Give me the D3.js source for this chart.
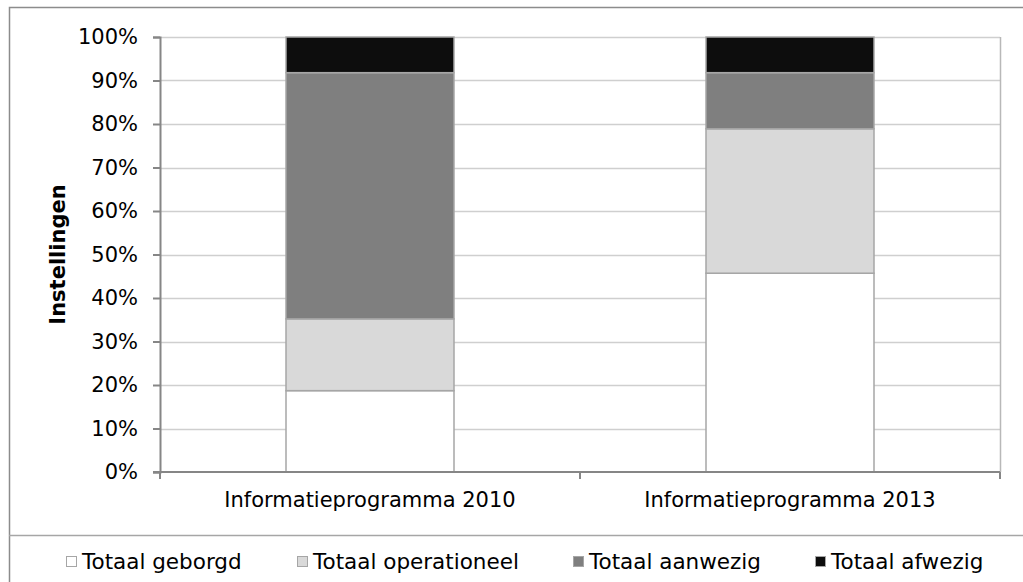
<!DOCTYPE html>
<html>
<head>
<meta charset="utf-8">
<script src="https://cdn.jsdelivr.net/npm/d3@7"></script>
<style>
  body { margin: 0; background: #fff; }
  svg { display: block; font-family: "DejaVu Sans", Verdana, sans-serif; }
</style>
</head>
<body>
<svg width="1023" height="582"></svg>
<script>
// categories and series (percent of instellingen)
var categories = ['Informatieprogramma 2010', 'Informatieprogramma 2013'];
var seriesNames = ['Totaal geborgd', 'Totaal operationeel', 'Totaal aanwezig', 'Totaal afwezig'];
var seriesColors = ['#ffffff', '#d9d9d9', '#7f7f7f', '#0d0d0d'];
var geborgd = [18.7, 45.7];
var operationeel = [16.5, 33.2];
var aanwezig = [56.6, 12.9];
var afwezig = [8.2, 8.2];
var yTicks = [0, 10, 20, 30, 40, 50, 60, 70, 80, 90, 100];

// legend marker positions
var legendX = [66, 297, 573, 815];

var fontSize = 21;
var margin = { top: 37, right: 23, bottom: 110, left: 160 };
var width = 1023 - margin.left - margin.right;
var height = 582 - margin.top - margin.bottom;

var svg = d3.select('svg');

// outer frame (chart box + legend box)
svg.append('path')
    .attr('d', 'M9.5,582 V7.5 H1023')
    .attr('fill', 'none')
    .attr('stroke', '#8c8c8c')
    .attr('stroke-width', 1.5);
svg.append('line')
    .attr('x1', 9).attr('x2', 1023)
    .attr('y1', 535.5).attr('y2', 535.5)
    .attr('stroke', '#a6a6a6')
    .attr('stroke-width', 1.5);

var graph = svg.append('g')
    .attr('transform', 'translate(' + margin.left + ',' + margin.top + ')');

var x = d3.scaleBand().domain(categories).range([0, width]).paddingInner(0.6).paddingOuter(0.3);
var xOuter = d3.scaleBand().domain(categories).range([0, width]);
var y = d3.scaleLinear().domain([0, 100]).range([height, 0]);

// gridlines
graph.append('g')
    .selectAll('line')
    .data(yTicks.filter(function (d) { return d > 0; }))
    .enter().append('line')
    .attr('x1', 0).attr('x2', width)
    .attr('y1', function (d) { return Math.round(y(d)) + 0.5; })
    .attr('y2', function (d) { return Math.round(y(d)) + 0.5; })
    .attr('stroke', '#cfcfcf')
    .attr('stroke-width', 1.5);

// right edge of plot area
graph.append('line')
    .attr('x1', width + 0.5).attr('x2', width + 0.5)
    .attr('y1', y(100)).attr('y2', height)
    .attr('stroke', '#b8b8b8')
    .attr('stroke-width', 1.5);

// stacked bars
var rows = categories.map(function (c, i) {
    return {
        cat: c,
        'Totaal geborgd': geborgd[i],
        'Totaal operationeel': operationeel[i],
        'Totaal aanwezig': aanwezig[i],
        'Totaal afwezig': afwezig[i]
    };
});
var stack = d3.stack().keys(seriesNames)(rows);

var layers = graph.selectAll('.layer')
    .data(stack)
    .enter().append('g')
    .attr('class', 'layer')
    .attr('fill', function (d, i) { return seriesColors[i]; });

layers.selectAll('rect')
    .data(function (d) { return d; })
    .enter().append('rect')
    .attr('x', function (d) { return x(d.data.cat); })
    .attr('width', x.bandwidth())
    .attr('y', function (d) { return y(d[1]); })
    .attr('height', function (d) { return y(d[0]) - y(d[1]); })
    .attr('stroke', '#a6a6a6')
    .attr('stroke-width', 1.5);

// y axis
var yAxis = d3.axisLeft(y)
    .tickValues(yTicks)
    .tickSize(7)
    .tickPadding(15)
    .tickFormat(function (d) { return d + '%'; });

var yg = graph.append('g').call(yAxis);
yg.select('.domain').attr('stroke', '#868686').attr('stroke-width', 2);
yg.selectAll('.tick line').attr('stroke', '#868686').attr('stroke-width', 2);
yg.selectAll('.tick text')
    .attr('font-size', fontSize)
    .attr('fill', '#000')
    .attr('font-family', '"DejaVu Sans", Verdana, sans-serif');

// x axis
var xg = graph.append('g')
    .attr('transform', 'translate(0,' + height + ')');
xg.append('line')
    .attr('x1', -7).attr('x2', width)
    .attr('y1', 0).attr('y2', 0)
    .attr('stroke', '#868686')
    .attr('stroke-width', 2);
xg.selectAll('.xtick')
    .data([0, xOuter.bandwidth(), width])
    .enter().append('line')
    .attr('x1', function (d) { return d; })
    .attr('x2', function (d) { return d; })
    .attr('y1', 0).attr('y2', 7)
    .attr('stroke', '#868686')
    .attr('stroke-width', 2);
xg.selectAll('.xlabel')
    .data(categories)
    .enter().append('text')
    .attr('x', function (d) { return x(d) + x.bandwidth() / 2; })
    .attr('y', 35)
    .attr('text-anchor', 'middle')
    .attr('font-size', fontSize)
    .text(function (d) { return d; });

// y axis title
svg.append('text')
    .attr('transform', 'translate(65,' + (margin.top + height / 2) + ') rotate(-90)')
    .attr('text-anchor', 'middle')
    .attr('font-size', fontSize)
    .attr('font-weight', 'bold')
    .text('Instellingen');

// legend
var legend = svg.selectAll('.legend')
    .data(seriesNames)
    .enter().append('g')
    .attr('class', 'legend')
    .attr('transform', function (d, i) { return 'translate(' + legendX[i] + ',556)'; });

legend.append('rect')
    .attr('x', 0.5).attr('y', 0.5)
    .attr('width', 10).attr('height', 10)
    .attr('fill', function (d, i) { return seriesColors[i]; })
    .attr('stroke', '#a6a6a6')
    .attr('stroke-width', 1);

legend.append('text')
    .attr('x', 16)
    .attr('y', 13)
    .attr('font-size', 21.5)
    .text(function (d) { return d; });
</script>
</body>
</html>
